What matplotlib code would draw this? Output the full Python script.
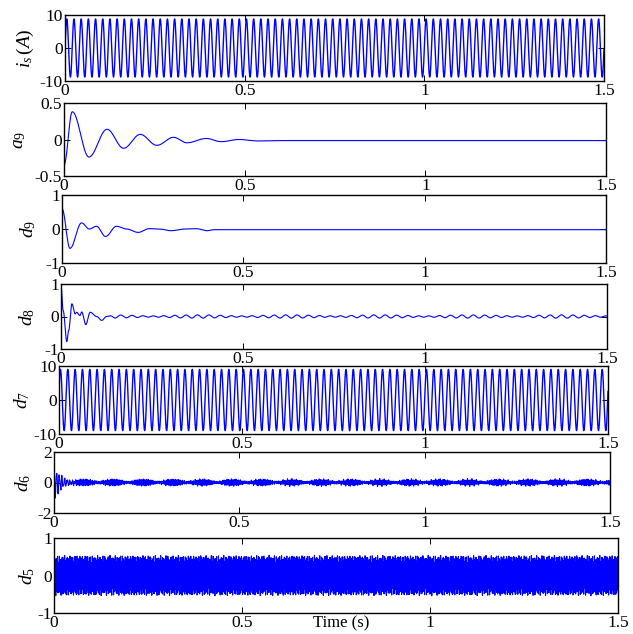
import numpy as np
import matplotlib
matplotlib.use('Agg')
import matplotlib.pyplot as plt

plt.rcParams['font.family'] = ['Liberation Serif', 'DejaVu Serif']
plt.rcParams['mathtext.fontset'] = 'custom'
plt.rcParams['mathtext.rm'] = 'Liberation Serif'
plt.rcParams['mathtext.it'] = 'Liberation Serif:italic'
plt.rcParams['axes.unicode_minus'] = False

# ---- values ----
fs = 20000.0
t_end = 1.5
xticks = [0, 0.5, 1, 1.5]
xticklabels = ['0', '0.5', '1', '1.5']

# stator current and d7: 50 Hz, peak values
is_freq = 50.0
is_amp = 8.8
d7_freq = 50.0
d7_amp = 9.0

# a9: extrema (time, value)
a9_t = [0.0, 0.023, 0.069, 0.119, 0.165, 0.211, 0.257, 0.303, 0.340, 0.394, 0.435, 0.484, 0.537, 0.60]
a9_v = [-0.35, 0.38, -0.24, 0.14, -0.12, 0.07, -0.08, 0.03, -0.045, 0.014, -0.03, 0.0, -0.02, -0.015]

# d9: extrema (time, value)
d9_t = [0.0, 0.022, 0.054, 0.075, 0.095, 0.120, 0.150, 0.178, 0.21, 0.24, 0.27, 0.30, 0.34, 0.37, 0.40, 0.42]
d9_v = [0.6, -0.57, 0.18, 0.0, 0.08, -0.22, 0.08, 0.0, -0.1, 0.01, 0.0, -0.05, 0.0, 0.01, -0.05, -0.02]

# d8: start transient extrema, then small ripple
d8_t = [0.0, 0.006, 0.016, 0.021, 0.030, 0.039, 0.043, 0.052, 0.057, 0.068, 0.080, 0.098, 0.112, 0.125]
d8_v = [0.95, 0.18, -0.77, -0.43, 0.39, 0.08, 0.13, 0.03, 0.14, -0.25, 0.13, 0.0, -0.12, 0.0]
d8_ripple_freq = [33.0, 29.0]
d8_ripple_amp = [0.035, 0.015]

# d6: start burst then beating band
d6_start_amp = 1.05
d6_start_freq = 140.0
d6_start_tau = 0.02
d6_freq = [245.0, 257.5, 410.0, 583.0]
d6_amp = [0.11, 0.08, 0.04, 0.03]

# d5: dense band
d5_freq = [1210.0, 1633.0, 2271.0]
d5_amp = [0.28, 0.15, 0.11]

ylabels = [r'$i_s\,(A)$', r'$a_9$', r'$d_9$', r'$d_8$', r'$d_7$', r'$d_6$', r'$d_5$']
ylims = [(-10, 10), (-0.5, 0.5), (-1, 1), (-1, 1), (-10, 10), (-2, 2), (-1, 1)]
yticks = [[-10, 0, 10], [-0.5, 0, 0.5], [-1, 0, 1], [-1, 0, 1], [-10, 0, 10], [-2, 0, 2], [-1, 0, 1]]
yticklabels = [['-10', '0', '10'], ['-0.5', '0', '0.5'], ['-1', '0', '1'], ['-1', '0', '1'],
               ['-10', '0', '10'], ['-2', '0', '2'], ['-1', '0', '1']]

# axes boxes in pixels: left, top, right, bottom
W, H = 633, 634
boxes = [(65, 15, 604, 81), (64, 103, 606, 176), (62, 195, 606, 263), (61, 284, 607, 349),
         (59, 366, 608, 434), (54, 452, 610, 513), (54, 538, 618, 613)]
labelpads = [3, 5, 5, 5, 1, 3, 0]
linewidths = [1.0, 0.8, 0.8, 0.8, 1.0, 0.8, 0.8]


def through_extrema(t, tk, vk):
    """smooth half-cosine path between read-off extrema"""
    tk = np.asarray(tk)
    vk = np.asarray(vk)
    out = np.full_like(t, vk[-1])
    for i in range(len(tk) - 1):
        m = (t >= tk[i]) & (t < tk[i + 1])
        s = (t[m] - tk[i]) / (tk[i + 1] - tk[i])
        out[m] = vk[i] + (vk[i + 1] - vk[i]) * (1 - np.cos(np.pi * s)) / 2
    return out


t = np.arange(0, t_end, 1 / fs)

i_s = is_amp * np.sin(2 * np.pi * is_freq * t)
a9 = through_extrema(t, a9_t, a9_v)
d9 = through_extrema(t, d9_t, d9_v)
d8 = through_extrema(t, d8_t, d8_v)
ramp = np.clip((t - d8_t[-1]) / 0.02, 0, 1)
for f, a in zip(d8_ripple_freq, d8_ripple_amp):
    d8 = d8 + ramp * a * np.sin(2 * np.pi * f * (t - d8_t[-1]))
d7 = d7_amp * np.sin(2 * np.pi * d7_freq * t + 0.3)
d6 = d6_start_amp * np.exp(-t / d6_start_tau) * np.cos(2 * np.pi * d6_start_freq * t)
for f, a in zip(d6_freq, d6_amp):
    d6 = d6 + a * np.sin(2 * np.pi * f * t)
d5 = np.zeros_like(t)
for f, a in zip(d5_freq, d5_amp):
    d5 = d5 + a * np.sin(2 * np.pi * f * t)

signals = [i_s, a9, d9, d8, d7, d6, d5]

fig = plt.figure(figsize=(W / 100, H / 100), dpi=100)
for k, sig in enumerate(signals):
    l, tp, r, b = boxes[k]
    ax = fig.add_axes([l / W, 1 - b / H, (r - l) / W, (b - tp) / H])
    ax.plot(t, sig, color='#0000ff', lw=linewidths[k])
    ax.set_xlim(0, t_end)
    ax.set_ylim(*ylims[k])
    ax.set_xticks(xticks)
    ax.set_xticklabels(xticklabels)
    ax.set_yticks(yticks[k])
    ax.set_yticklabels(yticklabels[k])
    ax.tick_params(direction='in', top=True, right=True, length=4, width=0.7,
                   labelsize=12.5, pad=1.5)
    ax.set_ylabel(ylabels[k], fontsize=14, labelpad=labelpads[k])
    for sp in ax.spines.values():
        sp.set_linewidth(1.0)
    if k == len(signals) - 1:
        ax.text(0.51, -0.03, 'Time (s)', transform=ax.transAxes, ha='center', va='top', fontsize=12)

fig.savefig('out.png', dpi=100)
